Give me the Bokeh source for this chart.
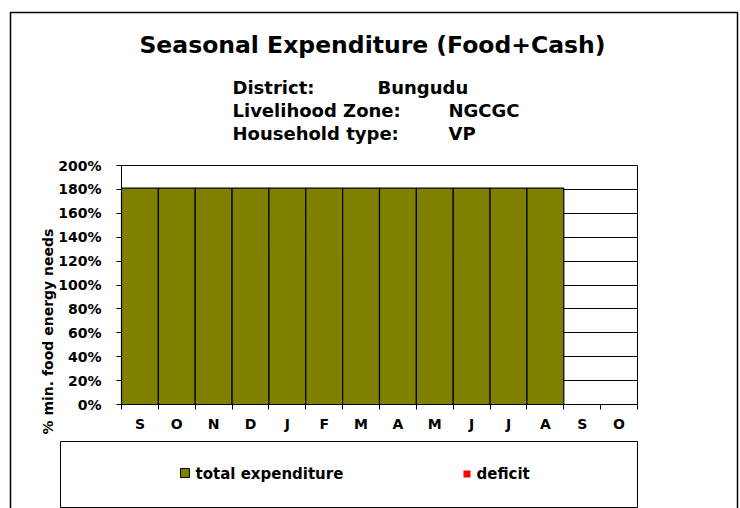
import numpy as np
from bokeh.plotting import figure
from bokeh.models import Range1d, FixedTicker, Label
from bokeh.embed import file_html
from bokeh.resources import INLINE

# ---------------- data ----------------
months = ["S", "O", "N", "D", "J", "F", "M", "A", "M", "J", "J", "A", "S", "O"]
total_expenditure = [181, 181, 181, 181, 181, 181, 181, 181, 181, 181, 181, 181]
deficit = [0, 0, 0, 0, 0, 0, 0, 0, 0, 0, 0, 0]
y_ticks = [0, 20, 40, 60, 80, 100, 120, 140, 160, 180, 200]
y_tick_labels = ["0%", "20%", "40%", "60%", "80%", "100%", "120%", "140%",
                 "160%", "180%", "200%"]

title_text = "Seasonal Expenditure (Food+Cash)"
info_keys = ["District:", "Livelihood Zone:", "Household type:"]
info_vals = ["Bungudu", "NGCGC", "VP"]
y_title = "% min. food energy needs"
legend_labels = ["total expenditure", "deficit"]

OLIVE = "#808000"
RED = "#ff0000"
FONT = "DejaVu Sans"

# ---------------- layout (page pixels) ----------------
FIG_X0, FIG_Y0, W, H = 0, 0, 740, 508
L, R, T, B = 121, 637, 165, 404          # plot area
n_cat = len(months)
y_max = y_ticks[-1]
sx = (R - L) / n_cat
sy = (B - T) / y_max


def dx(px):
    return (px - L) / sx


def dy(py):
    return (B - py) / sy


x_range = Range1d(dx(FIG_X0), dx(FIG_X0 + W))
y_range = Range1d(dy(FIG_Y0 + H), dy(FIG_Y0))

p = figure(width=W, height=H, x_range=x_range, y_range=y_range,
           output_backend="svg", toolbar_location=None, min_border=0,
           background_fill_color="white", border_fill_color="white")
p.outline_line_color = None

# ---------------- outer chart frame & legend box ----------------
p.quad(left=[dx(10)], right=[dx(737)], top=[dy(12)], bottom=[dy(530)],
       fill_color=None, line_color="black", line_width=1.5)
p.quad(left=[dx(60)], right=[dx(637)], top=[dy(441)], bottom=[dy(507)],
       fill_color="white", line_color="black", line_width=1)

# ---------------- bars ----------------
xs = [i + 0.5 for i in range(len(total_expenditure))]
p.vbar(x=xs, width=1.0, bottom=0, top=total_expenditure,
       fill_color=OLIVE, line_color="black", line_width=1.2)
tops = [a + b for a, b in zip(total_expenditure, deficit)]
p.vbar(x=xs, width=1.0, bottom=total_expenditure, top=tops,
       fill_color=RED, line_color=None)

# ---------------- axes ----------------
xa = p.xaxis[0]
xa.fixed_location = 0
xa.bounds = (0, n_cat)
xa.ticker = FixedTicker(ticks=[i + 0.5 for i in range(n_cat)],
                        minor_ticks=list(range(n_cat + 1)))
xa.major_label_overrides = {i + 0.5: m for i, m in enumerate(months)}
xa.major_tick_out = 0
xa.major_tick_in = 0
xa.minor_tick_out = 5
xa.minor_tick_in = 0
xa.minor_tick_line_color = "black"
xa.axis_line_color = "black"
xa.major_label_standoff = 6
xa.major_label_text_font = FONT
xa.major_label_text_font_style = "bold"
xa.major_label_text_font_size = "14px"
xa.major_label_text_color = "black"

ya = p.yaxis[0]
ya.fixed_location = 0
ya.bounds = (0, y_max)
ya.ticker = FixedTicker(ticks=y_ticks)
ya.major_label_overrides = dict(zip(y_ticks, y_tick_labels))
ya.major_tick_out = 5
ya.major_tick_in = 0
ya.minor_tick_out = 0
ya.minor_tick_in = 0
ya.major_tick_line_color = "black"
ya.axis_line_color = "black"
ya.major_label_standoff = 15
ya.major_label_text_font = FONT
ya.major_label_text_font_style = "bold"
ya.major_label_text_font_size = "14px"
ya.major_label_text_color = "black"

# ---------------- grid ----------------
p.ygrid.ticker = FixedTicker(ticks=y_ticks)
p.ygrid.cross_bounds = (0, n_cat)
p.ygrid.grid_line_color = "black"
p.ygrid.grid_line_width = 1
p.xgrid.ticker = FixedTicker(ticks=[n_cat])
p.xgrid.cross_bounds = (0, y_max)
p.xgrid.grid_line_color = "black"
p.xgrid.grid_line_width = 1

# ---------------- texts ----------------
p.add_layout(Label(x=dx(372), y=dy(44), text=title_text, text_font=FONT,
                   text_font_style="bold", text_font_size="23.5px",
                   text_align="center", text_baseline="alphabetic",
                   text_color="black"))
for k, (key, val) in enumerate(zip(info_keys, info_vals)):
    base = 87 + 23 * k
    p.add_layout(Label(x=dx(232), y=dy(base), text=key, text_font=FONT,
                       text_font_style="bold", text_font_size="18px",
                       text_align="left", text_baseline="alphabetic",
                       text_color="black"))
    p.add_layout(Label(x=dx(377 if k == 0 else 448), y=dy(base), text=val,
                       text_font=FONT, text_font_style="bold",
                       text_font_size="18px", text_align="left",
                       text_baseline="alphabetic", text_color="black"))

p.add_layout(Label(x=dx(47), y=dy(331), text=y_title, text_font=FONT,
                   text_font_style="bold", text_font_size="14px",
                   angle=np.pi / 2, text_align="center",
                   text_baseline="middle", text_color="black"))

# ---------------- legend ----------------
p.quad(left=[dx(180)], right=[dx(189)], top=[dy(468)], bottom=[dy(477)],
       fill_color=OLIVE, line_color="black", line_width=1)
p.quad(left=[dx(463)], right=[dx(470)], top=[dy(470)], bottom=[dy(477)],
       fill_color=RED, line_color=None)
p.add_layout(Label(x=dx(195), y=dy(473), text=legend_labels[0], text_font=FONT,
                   text_font_style="bold", text_font_size="15px",
                   text_align="left", text_baseline="middle",
                   text_color="black"))
p.add_layout(Label(x=dx(476), y=dy(473), text=legend_labels[1], text_font=FONT,
                   text_font_style="bold", text_font_size="15px",
                   text_align="left", text_baseline="middle",
                   text_color="black"))

open("out.html", "w").write(file_html(p, INLINE))
